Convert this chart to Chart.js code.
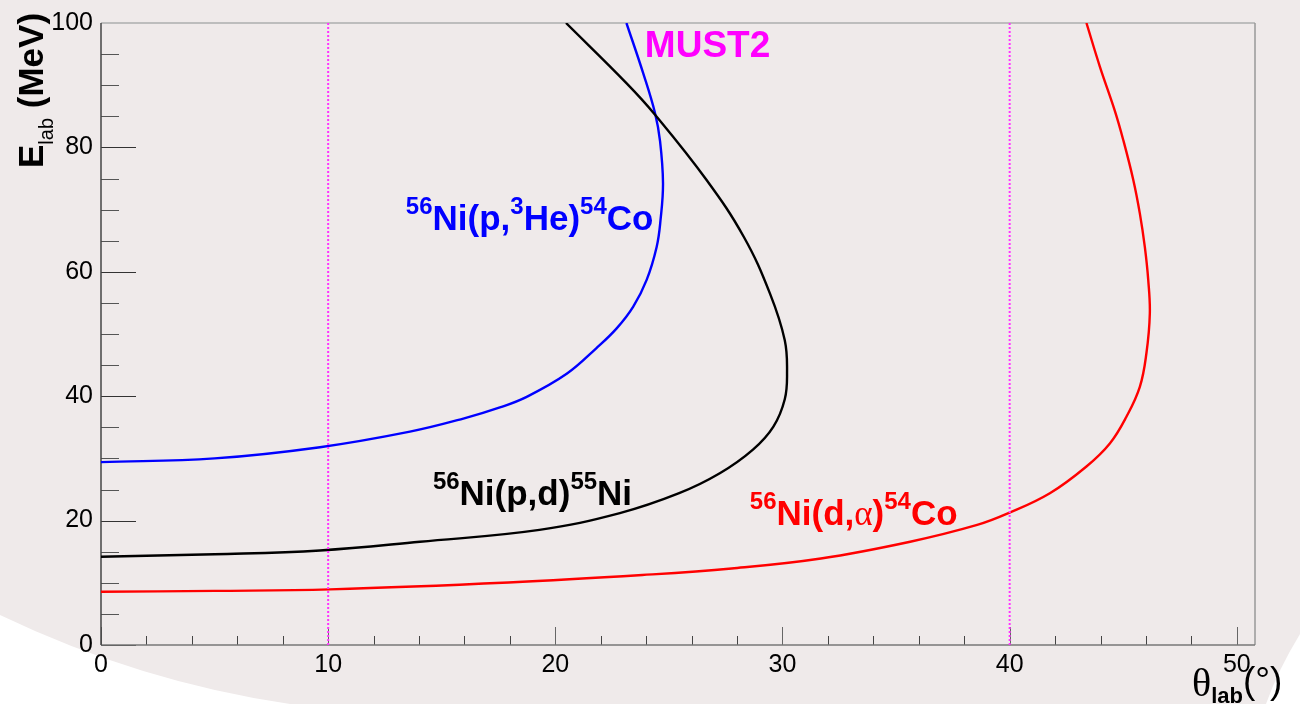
<!DOCTYPE html>
<html><head><meta charset="utf-8">
<script src="https://cdn.jsdelivr.net/npm/chart.js@4/dist/chart.umd.min.js"></script>
<style>html,body{margin:0;padding:0;background:#efeaea;overflow:hidden}canvas{display:block}</style>
</head><body>
<canvas id="c" width="1300" height="704"></canvas>
<script>
// ---- data ----
const thetaP3He  = [0, 5, 9.64, 13.6, 15.95, 17.56, 18.74, 20.5, 21.8, 22.7, 23.43, 24.02, 24.46, 24.63, 24.74, 24.61, 24.39, 23.87, 23.13];
const energyP3He = [29.4, 30.0, 31.8, 34.3, 36.4, 38.2, 39.9, 43.6, 47.7, 50.9, 54.4, 58.7, 64.0, 68.3, 74.2, 81.0, 85.5, 91.9, 100];

const thetaPd  = [0, 5, 9.64, 14.04, 19.3, 22.84, 25.45, 27.24, 28.7, 29.6, 30.1, 30.2, 30.1, 29.45, 28.3, 26.65, 24.38, 23.14, 20.47];
const energyPd = [14.2, 14.6, 15.2, 16.6, 18.5, 21.2, 24.4, 27.6, 31.4, 35.1, 39.5, 43.7, 49.0, 56.5, 65.6, 74.8, 85.3, 90.3, 100];

const thetaDa  = [0, 5, 10.08, 17.94, 23.83, 27.76, 31.69, 35.62, 38.57, 39.95, 41.77, 43.38, 44.41, 45.14, 45.73, 46.02, 46.17, 46.1, 45.95, 45.73, 45.44, 45.0, 44.62, 43.97, 43.38];
const energyDa = [8.55, 8.7, 8.95, 10.05, 11.25, 12.3, 13.9, 16.6, 19.3, 21.2, 24.4, 28.7, 32.4, 36.7, 41.5, 46.9, 53.3, 58.7, 64.0, 69.4, 74.8, 81.2, 86.0, 93.0, 100];

const mustLimits = [10, 40];
const xTickLabels = [0, 10, 20, 30, 40, 50];
const yTickLabels = [0, 20, 40, 60, 80, 100];
const xRange = [0, 50.8];
const yRange = [0, 100];

// ---- helpers ----
const pts = (xs, ys) => xs.map((x, i) => ({x, y: ys[i]}));
const SANS = '"Liberation Sans", Arial, Helvetica, sans-serif';
const SERIF = '"Liberation Serif", "Times New Roman", serif';
const M = 'bold 35px ' + SANS, S = 'bold 24px ' + SANS;
const SUP = -16;

function drawRich(ctx, x, y, segs, color) {
  ctx.fillStyle = color; ctx.textAlign = 'left'; ctx.textBaseline = 'alphabetic';
  let cx = x;
  for (const s of segs) {
    ctx.font = s.f;
    ctx.fillText(s.t, cx, y + (s.dy || 0));
    cx += ctx.measureText(s.t).width;
  }
}

const curveLabels = [
  {x: 13.42, y: 66.7, color: '#0000ff', segs: [{t:'56',f:S,dy:SUP},{t:'Ni(p,',f:M},{t:'3',f:S,dy:SUP},{t:'He)',f:M},{t:'54',f:S,dy:SUP},{t:'Co',f:M}]},
  {x: 14.61, y: 22.5, color: '#000000', segs: [{t:'56',f:S,dy:SUP},{t:'Ni(p,d)',f:M},{t:'55',f:S,dy:SUP},{t:'Ni',f:M}]},
  {x: 28.56, y: 19.3, color: '#ff0000', segs: [{t:'56',f:S,dy:SUP},{t:'Ni(d,',f:M},{t:'α',f:'35px '+SERIF},{t:')',f:M},{t:'54',f:S,dy:SUP},{t:'Co',f:M}]},
  {x: 23.94, y: 94.5, color: '#ff00ff', segs: [{t:'MUST2',f:'bold 37px '+SANS}]}
];

const bgPlugin = {
  id: 'bg',
  beforeDraw(chart) {
    const ctx = chart.ctx, w = chart.width, h = chart.height;
    ctx.save();
    ctx.fillStyle = '#efeaea'; ctx.fillRect(0, 0, w, h);
    ctx.fillStyle = '#ffffff';
    ctx.beginPath(); ctx.moveTo(0, 615); ctx.quadraticCurveTo(140, 682, 290, 704); ctx.lineTo(0, 704); ctx.closePath(); ctx.fill();
    ctx.beginPath(); ctx.moveTo(1300, 634); ctx.quadraticCurveTo(1278, 670, 1266, 704); ctx.lineTo(1300, 704); ctx.closePath(); ctx.fill();
    ctx.restore();
  }
};

const framePlugin = {
  id: 'frame',
  beforeDatasetsDraw(chart) {
    const ctx = chart.ctx, a = chart.chartArea, xs = chart.scales.x, ys = chart.scales.y;
    ctx.save();
    ctx.lineWidth = 1;
    for (let v = yRange[0]; v <= yRange[1] + 1e-9; v += 5) {
      const p = Math.round(ys.getPixelForValue(v)) + 0.5;
      const major = yTickLabels.includes(v);
      ctx.strokeStyle = major ? '#333' : '#555';
      ctx.beginPath(); ctx.moveTo(a.left, p); ctx.lineTo(a.left + (major ? 35 : 18), p); ctx.stroke();
    }
    for (let v = 0; v <= 50 + 1e-9; v += 2) {
      const p = Math.round(xs.getPixelForValue(v)) + 0.5;
      const major = xTickLabels.includes(v);
      ctx.strokeStyle = major ? '#666' : '#444';
      ctx.beginPath(); ctx.moveTo(p, a.bottom); ctx.lineTo(p, a.bottom - (major ? 18 : 9)); ctx.stroke();
    }
    ctx.lineWidth = 2;
    ctx.strokeStyle = '#bdbdbd';
    ctx.beginPath(); ctx.moveTo(a.left, a.top); ctx.lineTo(a.right, a.top); ctx.stroke();
    ctx.lineWidth = 1.5;
    ctx.strokeStyle = '#999';
    ctx.beginPath(); ctx.moveTo(a.right, a.top); ctx.lineTo(a.right, a.bottom); ctx.stroke();
    ctx.strokeStyle = '#777';
    ctx.beginPath(); ctx.moveTo(a.left, a.bottom); ctx.lineTo(a.right, a.bottom); ctx.stroke();
    ctx.strokeStyle = '#444';
    ctx.beginPath(); ctx.moveTo(a.left, a.top); ctx.lineTo(a.left, a.bottom); ctx.stroke();
    ctx.restore();
  },
  afterDatasetsDraw(chart) {
    const ctx = chart.ctx, xs = chart.scales.x, ys = chart.scales.y;
    ctx.save();
    for (const l of curveLabels) drawRich(ctx, xs.getPixelForValue(l.x), ys.getPixelForValue(l.y), l.segs, l.color);
    ctx.translate(43, 168); ctx.rotate(-Math.PI / 2);
    drawRich(ctx, 0, 0, [{t:'E',f:'bold 35px '+SANS},{t:'lab',f:'20px '+SANS,dy:10},{t:' (MeV)',f:'bold 35px '+SANS}], '#000');
    ctx.setTransform(1,0,0,1,0,0);
    drawRich(ctx, 1192, 696, [{t:'θ',f:'40px '+SERIF},{t:'lab',f:'bold 22px '+SANS,dy:7},{t:'(°)',f:'37px '+SANS,dy:-3}], '#000');
    ctx.restore();
  }
};

const curve = (data, color) => ({data, borderColor: color, borderWidth: 2.4, showLine: true, pointRadius: 0, tension: 0.4, fill: false});
const limit = (v) => ({data: [{x: v, y: yRange[0]}, {x: v, y: yRange[1]}], borderColor: '#ff33ff', borderWidth: 2, borderDash: [2, 2], showLine: true, pointRadius: 0, tension: 0});

new Chart(document.getElementById('c'), {
  type: 'scatter',
  data: {
    datasets: [
      ...mustLimits.map(limit),
      curve(pts(thetaDa, energyDa), '#ff0000'),
      curve(pts(thetaPd, energyPd), '#000000'),
      curve(pts(thetaP3He, energyP3He), '#0000ff')
    ]
  },
  options: {
    responsive: false, animation: false, devicePixelRatio: 1,
    layout: {padding: {top: 22, right: 45, left: 0, bottom: 0}},
    plugins: {legend: {display: false}, tooltip: {enabled: false}},
    scales: {
      x: {
        type: 'linear', min: xRange[0], max: xRange[1],
        grid: {display: false, drawTicks: false}, border: {display: false},
        ticks: {color: '#000', padding: 5, font: {family: SANS, size: 25}, maxRotation: 0},
        afterBuildTicks: s => { s.ticks = xTickLabels.map(v => ({value: v})); },
        afterFit: s => { s.height = 59; }
      },
      y: {
        type: 'linear', min: yRange[0], max: yRange[1],
        grid: {display: false, drawTicks: false}, border: {display: false},
        ticks: {color: '#000', padding: 8, font: {family: SANS, size: 25}},
        afterBuildTicks: s => { s.ticks = yTickLabels.map(v => ({value: v})); },
        afterFit: s => { s.width = 101; }
      }
    }
  },
  plugins: [bgPlugin, framePlugin]
});
</script>
</body></html>
